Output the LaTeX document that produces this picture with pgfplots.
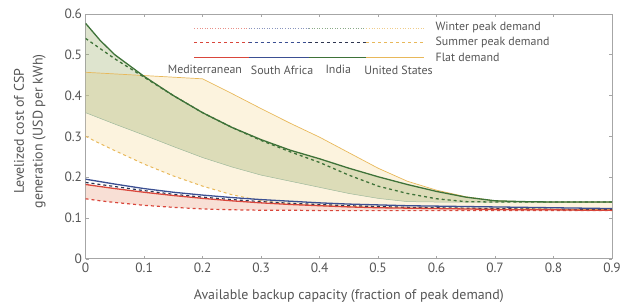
\documentclass[border=0pt]{standalone}
\usepackage{pgfplots}
\pgfplotsset{compat=1.18}
\usepackage{pgfplotstable}
\usepgfplotslibrary{fillbetween}
\usepackage{fontspec}
\setmainfont{PT Sans}
\definecolor{txt}{HTML}{555555}
\definecolor{usc}{HTML}{E8B85A}
\definecolor{usfill}{HTML}{F9E3B0}
\definecolor{inc}{HTML}{3E7238}
\definecolor{infill}{HTML}{9DB070}
\definecolor{mec}{HTML}{D9463B}
\definecolor{mefill}{HTML}{EFB9A2}
\definecolor{sac}{HTML}{3B4F92}
\definecolor{ssc}{HTML}{2E3550}

\pgfplotstableread{
x     Iflat Isum  Iwin  Uwin  Usum  Mflat Msum  Sflat Ssum
0     0.577 0.540 0.358 0.457 0.300 0.182 0.147 0.195 0.187
0.025 0.535 0.515 0.344 0.455 0.282 0.177 0.142 0.189 0.182
0.05  0.500 0.490 0.330 0.453 0.265 0.172 0.138 0.183 0.177
0.1   0.447 0.445 0.303 0.449 0.232 0.163 0.131 0.172 0.167
0.15  0.400 0.400 0.275 0.445 0.203 0.155 0.126 0.163 0.158
0.2   0.358 0.358 0.248 0.441 0.178 0.148 0.122 0.156 0.151
0.25  0.322 0.322 0.225 0.405 0.157 0.142 0.120 0.150 0.145
0.3   0.292 0.290 0.205 0.368 0.142 0.137 0.119 0.145 0.140
0.35  0.266 0.262 0.190 0.332 0.134 0.133 0.119 0.141 0.136
0.4   0.245 0.236 0.175 0.298 0.130 0.130 0.118 0.137 0.133
0.45  0.222 0.205 0.160 0.260 0.128 0.127 0.118 0.134 0.130
0.5   0.201 0.178 0.148 0.222 0.126 0.125 0.118 0.132 0.128
0.55  0.182 0.160 0.140 0.190 0.125 0.124 0.118 0.130 0.126
0.6   0.165 0.147 0.139 0.168 0.124 0.123 0.118 0.129 0.125
0.65  0.151 0.140 0.139 0.152 0.123 0.122 0.118 0.128 0.124
0.7   0.142 0.139 0.139 0.142 0.122 0.121 0.118 0.127 0.123
0.75  0.140 0.139 0.139 0.140 0.122 0.120 0.118 0.126 0.122
0.8   0.139 0.139 0.139 0.139 0.121 0.120 0.118 0.125 0.121
0.85  0.139 0.139 0.139 0.139 0.120 0.119 0.118 0.124 0.120
0.9   0.139 0.139 0.139 0.139 0.120 0.119 0.118 0.123 0.120
}\data

\begin{document}
\begin{tikzpicture}
\begin{axis}[
  scale only axis, width=529pt, height=246pt,
  xmin=0, xmax=0.9, ymin=0, ymax=0.6,
  xtick={0,0.1,...,0.9}, ytick={0,0.1,...,0.6},
  xticklabels={0,0.1,0.2,0.3,0.4,0.5,0.6,0.7,0.8,0.9},
  yticklabels={0,0.1,0.2,0.3,0.4,0.5,0.6},
  /pgf/number format/assume math mode=true,
  tick align=inside, tick style={gray!70, line width=0.5pt},
  major tick length=3pt,
  axis line style={gray!70, line width=0.8pt},
  ticklabel style={font=\fontsize{13.5}{13.5}\selectfont, text=txt},
  xticklabel style={yshift=-1pt},
  xlabel={Available backup capacity (fraction of peak demand)},
  xlabel style={font=\fontsize{14}{14}\selectfont, text=txt, at={(axis description cs:0.5,-0.154)}, anchor=center},
  clip=true,
]
% US region
\addplot[name path=uw, usc, line width=0.7pt] table[x=x,y=Uwin]{\data};
\addplot[name path=us, usc, dashed, line width=1pt] table[x=x,y=Usum]{\data};
\addplot[usfill, fill opacity=0.42, draw=none] fill between[of=uw and us];
% India region
\addplot[name path=iw, inc!50, line width=0.5pt] table[x=x,y=Iwin]{\data};
\addplot[name path=if, draw=none] table[x=x,y=Iflat]{\data};
\addplot[infill, fill opacity=0.34, draw=none] fill between[of=if and iw];
% Mediterranean region
\addplot[name path=mf, draw=none] table[x=x,y=Mflat]{\data};
\addplot[name path=ms, draw=none] table[x=x,y=Msum]{\data};
\addplot[mefill, fill opacity=0.45, draw=none] fill between[of=mf and ms];
% lines
\addplot[usc, line width=1.1pt, restrict x to domain=0.75:0.9] table[x=x,y=Usum]{\data};
\addplot[mec, dashed, line width=1.2pt] table[x=x,y=Msum]{\data};
\addplot[sac, line width=1.3pt] table[x=x,y=Sflat]{\data};
\addplot[ssc, dashed, line width=1.2pt] table[x=x,y=Ssum]{\data};
\addplot[mec, line width=1.3pt] table[x=x,y=Mflat]{\data};
\addplot[inc, dashed, line width=1.3pt] table[x=x,y=Isum]{\data};
\addplot[inc, line width=1.3pt] table[x=x,y=Iflat]{\data};
% legend
\draw[mec!60, dotted, line width=0.6pt] (axis cs:0.186,0.566) -- (axis cs:0.279,0.566);
\draw[sac!60, dotted, line width=0.6pt] (axis cs:0.279,0.566) -- (axis cs:0.382,0.566);
\draw[inc!60, dotted, line width=0.6pt] (axis cs:0.382,0.566) -- (axis cs:0.48,0.566);
\draw[usc!70, dotted, line width=0.6pt] (axis cs:0.48,0.566) -- (axis cs:0.578,0.566);
\draw[mec, dashed, line width=1pt] (axis cs:0.186,0.529) -- (axis cs:0.279,0.529);
\draw[sac, dashed, line width=1pt] (axis cs:0.279,0.529) -- (axis cs:0.382,0.529);
\draw[ssc, dashed, line width=1pt] (axis cs:0.382,0.529) -- (axis cs:0.48,0.529);
\draw[usc, dashed, line width=1pt] (axis cs:0.48,0.529) -- (axis cs:0.578,0.529);
\draw[mec, line width=1.1pt] (axis cs:0.186,0.493) -- (axis cs:0.279,0.493);
\draw[sac, line width=1.1pt] (axis cs:0.279,0.493) -- (axis cs:0.382,0.493);
\draw[inc, line width=1.1pt] (axis cs:0.382,0.493) -- (axis cs:0.48,0.493);
\draw[usc, line width=1.1pt] (axis cs:0.48,0.493) -- (axis cs:0.578,0.493);
\begin{scope}[every node/.style={font=\fontsize{12}{12}\selectfont, text=txt, inner sep=0pt}]
\node[anchor=center] at (axis cs:0.204,0.463) {Mediterranean};
\node[anchor=center] at (axis cs:0.336,0.463) {South Africa};
\node[anchor=center] at (axis cs:0.432,0.463) {India};
\node[anchor=center] at (axis cs:0.535,0.463) {United States};
\node[anchor=west] at (axis cs:0.598,0.566) {Winter peak demand};
\node[anchor=west] at (axis cs:0.598,0.529) {Summer peak demand};
\node[anchor=west] at (axis cs:0.598,0.493) {Flat demand};
\end{scope}
\end{axis}
\node[rotate=90, anchor=center, align=center, text=txt, font=\fontsize{14}{19}\selectfont, inner sep=0pt] at (-56pt,128pt) {Levelized cost of CSP\\generation (USD per kWh)};
\pgfresetboundingbox
\useasboundingbox (-86pt,-49pt) rectangle (538pt,260pt);
\end{tikzpicture}
\end{document}
